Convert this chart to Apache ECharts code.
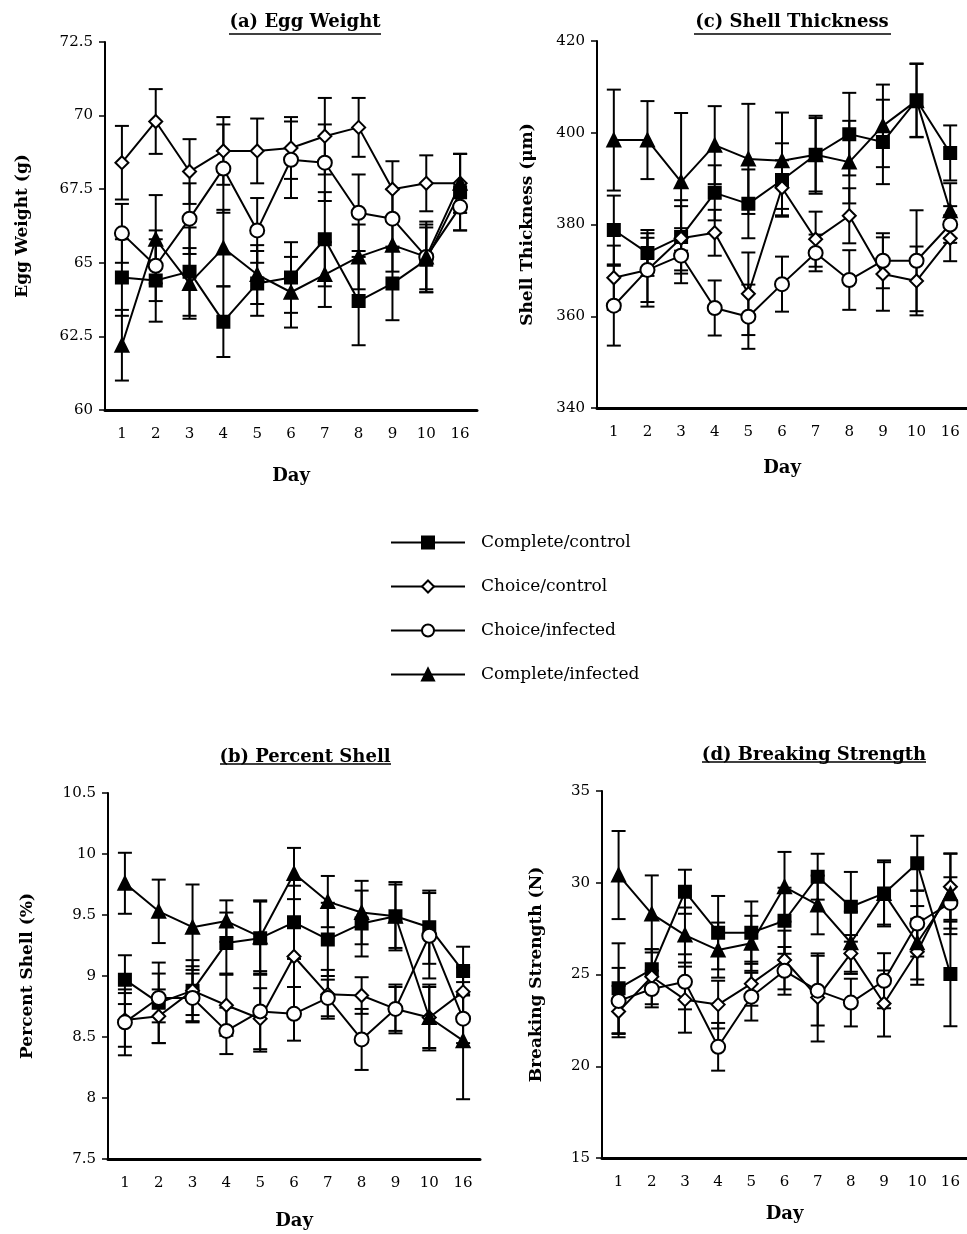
<!DOCTYPE html>
<html>
<head>
<meta charset="utf-8">
<script src="https://cdn.jsdelivr.net/npm/echarts@6/dist/echarts.min.js"></script>
<style>
  html, body { margin: 0; padding: 0; background: #fff; }
  #chart { width: 967px; height: 1234px; }
</style>
</head>
<body>
<div id="chart"></div>
<script>
  // x categories (days) and the four groups
  var days = ['1', '2', '3', '4', '5', '6', '7', '8', '9', '10', '16'];
  var groups = ['Complete/control', 'Choice/control', 'Choice/infected', 'Complete/infected'];

  // (a) egg weight (g): means and error bars, one row per group
  var eggMeans = [
    [64.5, 64.4, 64.7, 63.0, 64.3, 64.5, 65.8, 63.7, 64.3, 65.1, 67.4],
    [68.4, 69.8, 68.1, 68.8, 68.8, 68.9, 69.3, 69.6, 67.5, 67.7, 67.7],
    [66.0, 64.9, 66.5, 68.2, 66.1, 68.5, 68.4, 66.7, 66.5, 65.2, 66.9],
    [62.2, 65.8, 64.3, 65.5, 64.6, 64.0, 64.6, 65.2, 65.6, 65.2, 67.7]
  ];
  var eggErrors = [
    [1.3, 1.4, 1.5, 1.2, 1.1, 1.2, 1.6, 1.5, 1.25, 1.1, 1.3],
    [1.25, 1.1, 1.1, 1.15, 1.1, 1.05, 1.3, 1.0, 0.95, 0.95, 1.0],
    [1.0, 1.2, 1.2, 1.5, 1.1, 1.3, 1.3, 1.3, 1.0, 1.2, 0.8],
    [1.2, 1.5, 1.2, 1.3, 1.0, 1.2, 1.1, 1.1, 0.9, 1.1, 1.0]
  ];

  // (b) percent shell (%)
  var percentMeans = [
    [8.97, 8.78, 8.88, 9.27, 9.31, 9.44, 9.30, 9.43, 9.49, 9.40, 9.04],
    [8.64, 8.67, 8.88, 8.76, 8.65, 9.16, 8.85, 8.84, 8.73, 8.66, 8.87],
    [8.62, 8.82, 8.82, 8.55, 8.71, 8.69, 8.82, 8.48, 8.73, 9.33, 8.65],
    [9.76, 9.53, 9.40, 9.45, 9.32, 9.84, 9.61, 9.52, 9.49, 8.66, 8.47]
  ];
  var percentErrors = [
    [0.2, 0.33, 0.25, 0.25, 0.3, 0.3, 0.3, 0.27, 0.26, 0.3, 0.2],
    [0.22, 0.22, 0.2, 0.25, 0.25, 0.25, 0.2, 0.15, 0.2, 0.25, 0.2],
    [0.27, 0.2, 0.2, 0.19, 0.33, 0.22, 0.15, 0.25, 0.18, 0.35, 0.2],
    [0.25, 0.26, 0.35, 0.17, 0.3, 0.21, 0.21, 0.26, 0.28, 0.27, 0.48]
  ];

  // (c) shell thickness (um)
  var shellMeans = [
    [378.8, 373.8, 377.3, 386.9, 384.5, 389.7, 395.2, 399.7, 398.0, 407.1, 395.6],
    [368.4, 370.1, 377.0, 378.2, 364.9, 388.0, 376.8, 381.9, 369.2, 367.7, 377.0],
    [362.3, 370.1, 373.2, 361.8, 359.9, 367.0, 373.8, 367.9, 372.1, 372.1, 380.0],
    [398.4, 398.4, 389.3, 397.3, 394.3, 393.9, 395.2, 393.6, 401.5, 407.0, 383.0]
  ];
  var shellErrors = [
    [7.5, 5, 8, 6, 7.5, 8, 8.5, 9, 9.2, 8, 6],
    [7, 7, 7, 5, 9, 6, 6, 6, 8, 7.5, 5],
    [8.7, 8, 6, 6, 7, 6, 4, 6.5, 6, 11, 4],
    [11, 8.5, 15, 8.5, 12, 10.5, 8, 9, 9, 8, 6]
  ];

  // (d) breaking strength (N)
  var strengthMeans = [
    [24.25, 25.28, 29.51, 27.28, 27.28, 27.93, 30.33, 28.69, 29.42, 31.06, 25.03],
    [22.98, 24.88, 23.63, 23.36, 24.5, 25.79, 23.75, 26.15, 23.42, 26.24, 29.78],
    [23.56, 24.21, 24.6, 21.06, 23.79, 25.2, 24.12, 23.47, 24.66, 27.78, 28.9],
    [30.42, 28.3, 27.15, 26.33, 26.7, 29.78, 28.79, 26.73, 29.42, 26.73, 29.4]
  ];
  var strengthErrors = [
    [2.45, 1.1, 1.2, 2.0, 1.7, 1.8, 1.25, 1.9, 1.8, 1.5, 2.85],
    [1.4, 1.5, 1.8, 1.3, 1.2, 1.6, 2.4, 1.0, 1.8, 1.8, 1.8],
    [1.8, 1.0, 1.5, 1.3, 1.3, 1.3, 1.9, 1.3, 1.5, 1.8, 1.4],
    [2.4, 2.1, 1.5, 1.5, 1.5, 1.9, 1.6, 1.7, 1.7, 2.0, 2.2]
  ];

  var FONT = 'DejaVu Serif';

  var symbols = [
    { symbol: 'rect', size: 12, fill: '#000' },
    { symbol: 'diamond', size: 13, fill: '#fff' },
    { symbol: 'circle', size: 14, fill: '#fff' },
    { symbol: 'triangle', size: 13, fill: '#000' }
  ];

  var panels = [
    { means: eggMeans, errors: eggErrors, min: 60, max: 72.5, interval: 2.5, yName: 'Egg Weight (g)', nameGap: 74 },
    { means: shellMeans, errors: shellErrors, min: 340, max: 420, interval: 20, yName: 'Shell Thickness (\u03bcm)', nameGap: 61 },
    { means: percentMeans, errors: percentErrors, min: 7.5, max: 10.5, interval: 0.5, yName: 'Percent Shell (%)', nameGap: 72 },
    { means: strengthMeans, errors: strengthErrors, min: 15, max: 35, interval: 5, yName: 'Breaking Strength (N)', nameGap: 57 }
  ];

  var grids = [
    { left: 105, top: 42, width: 372, height: 368 },
    { left: 597, top: 41, width: 370, height: 367 },
    { left: 108, top: 793, width: 372, height: 366 },
    { left: 602, top: 791, width: 372, height: 367 }
  ];
  var dayNameGap = [57, 51, 53, 47];

  var xAxes = [], yAxes = [], series = [];

  panels.forEach(function (p, gi) {
    xAxes.push({
      type: 'category', gridIndex: gi, data: days,
      name: 'Day', nameLocation: 'middle', nameGap: dayNameGap[gi],
      nameTextStyle: { fontFamily: FONT, fontWeight: 'bold', fontSize: 18, color: '#000' },
      axisLine: { lineStyle: { color: '#000', width: 3 } },
      axisTick: { alignWithLabel: true, length: 7, lineStyle: { color: '#000', width: 2 } },
      axisLabel: { fontFamily: FONT, fontSize: 15, color: '#000', margin: 17 },
      splitLine: { show: false }
    });
    yAxes.push({
      type: 'value', gridIndex: gi, min: p.min, max: p.max, interval: p.interval,
      name: p.yName, nameLocation: 'middle', nameGap: p.nameGap, nameRotate: 90,
      nameTextStyle: { fontFamily: FONT, fontWeight: 'bold', fontSize: 17, color: '#000' },
      axisLine: { show: true, lineStyle: { color: '#000', width: 2 } },
      axisTick: { show: true, length: 6, lineStyle: { color: '#000', width: 1.5 } },
      axisLabel: { fontFamily: FONT, fontSize: 15, color: '#000', margin: 12 },
      splitLine: { show: false }
    });

    p.means.forEach(function (vals, si) {
      var errData = vals.map(function (v, i) { return [i, v, p.errors[si][i]]; });
      series.push({
        type: 'custom', xAxisIndex: gi, yAxisIndex: gi, z: 1, silent: true,
        data: errData,
        renderItem: function (params, api) {
          var idx = api.value(0), m = api.value(1), e = api.value(2);
          var top = api.coord([idx, m + e]);
          var bot = api.coord([idx, m - e]);
          var half = 7;
          var st = { stroke: '#000', lineWidth: 2 };
          return {
            type: 'group',
            children: [
              { type: 'line', shape: { x1: top[0], y1: top[1], x2: bot[0], y2: bot[1] }, style: st },
              { type: 'line', shape: { x1: top[0] - half, y1: top[1], x2: top[0] + half, y2: top[1] }, style: st },
              { type: 'line', shape: { x1: bot[0] - half, y1: bot[1], x2: bot[0] + half, y2: bot[1] }, style: st }
            ]
          };
        }
      });
      series.push({
        name: groups[si], type: 'line', xAxisIndex: gi, yAxisIndex: gi, z: 3,
        data: vals,
        symbol: symbols[si].symbol, symbolSize: symbols[si].size,
        showAllSymbol: true,
        lineStyle: { color: '#000', width: 2 },
        itemStyle: { color: symbols[si].fill, borderColor: '#000', borderWidth: 2 },
        emphasis: { disabled: true },
        animation: false
      });
    });
  });

  var titleStyle = { fontFamily: FONT, fontWeight: 'bold', fontSize: 18, color: '#000' };
  var titles = [
    { text: '(a) Egg Weight', x: 305, y: 13 },
    { text: '(c) Shell Thickness', x: 792, y: 13 },
    { text: '(b) Percent Shell', x: 305, y: 748 },
    { text: '(d) Breaking Strength', x: 814, y: 746 }
  ];
  // underline spans of the titles
  var underlines = [[229, 381, 34], [694, 891, 34], [220, 391, 764], [702, 926, 762]];

  var chart = echarts.init(document.getElementById('chart'));
  chart.setOption({
    animation: false,
    backgroundColor: '#fff',
    title: titles.map(function (t) {
      return { text: t.text, left: t.x, top: t.y, padding: 0, textAlign: 'center', textStyle: titleStyle };
    }),
    legend: {
      orient: 'vertical', left: 385, top: 529,
      itemWidth: 74, itemHeight: 15, itemGap: 27,
      selectedMode: false,
      data: groups,
      textStyle: { fontFamily: FONT, fontSize: 17, color: '#000', padding: [0, 0, 0, 11] }
    },
    graphic: underlines.map(function (u) {
      return { type: 'line', shape: { x1: u[0], y1: u[2], x2: u[1], y2: u[2] }, style: { stroke: '#000', lineWidth: 1.5 } };
    }),
    grid: grids,
    xAxis: xAxes,
    yAxis: yAxes,
    series: series
  });
</script>
</body>
</html>
